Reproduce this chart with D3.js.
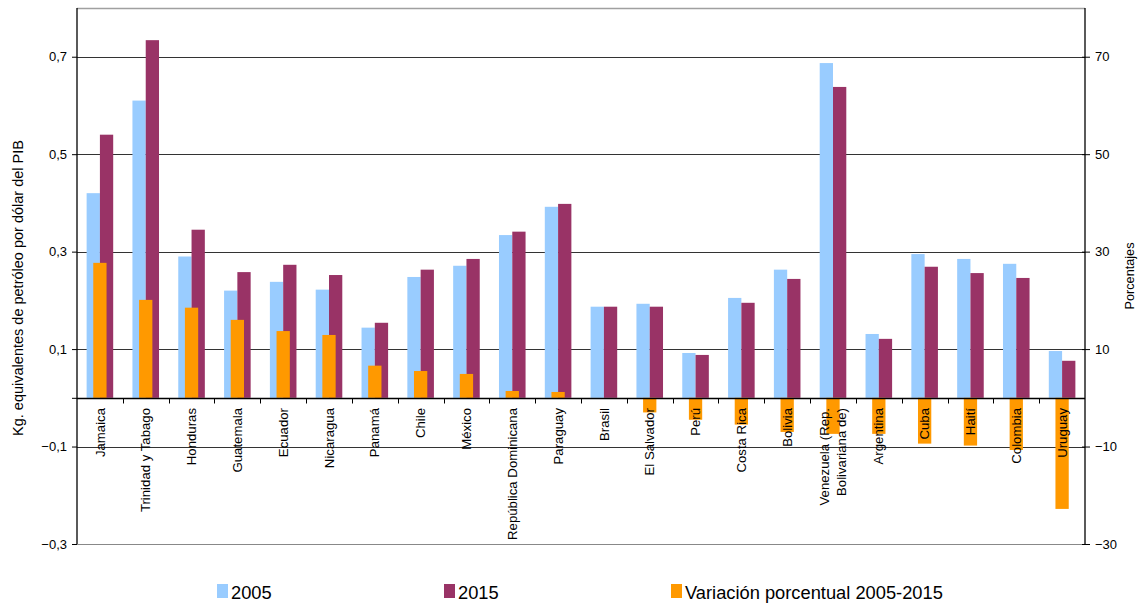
<!DOCTYPE html>
<html><head><meta charset="utf-8">
<script src="https://cdn.jsdelivr.net/npm/d3@7"></script>
<style>body{margin:0;background:#fff}svg{display:block}text{font-family:"Liberation Sans",Arial,sans-serif;fill:#000}</style>
</head><body><svg id="c" width="1139" height="603"></svg>
<script>
const categories = ["Jamaica","Trinidad y Tabago","Honduras","Guatemala","Ecuador","Nicaragua","Panamá","Chile","México","República Dominicana","Paraguay","Brasil","El Salvador","Perú","Costa  Rica","Bolivia","Venezuela (Rep.|Bolivariana de)","Argentina","Cuba","Haití","Colombia","Uruguay"];
const v2005 = [0.42,0.61,0.29,0.22,0.238,0.222,0.144,0.248,0.271,0.334,0.392,0.187,0.193,0.092,0.205,0.263,0.687,0.131,0.295,0.285,0.275,0.096];
const v2015 = [0.54,0.734,0.345,0.258,0.273,0.252,0.154,0.263,0.285,0.341,0.398,0.187,0.187,0.088,0.195,0.244,0.638,0.121,0.269,0.256,0.246,0.076];
const variacion = [27.7,20.1,18.5,16.0,13.7,12.9,6.6,5.5,4.9,1.4,1.2,0,-3.0,-4.5,-5.5,-7.0,-7.4,-7.4,-9.4,-9.8,-10.7,-22.8];
const leftTicks = [-0.3,-0.1,0.1,0.3,0.5,0.7];
const rightTicks = [-30,-10,10,30,50,70];
const seriesNames = ["2005","2015","Variación porcentual 2005-2015"];
const colors = ["#99CCFF","#993366","#FF9900"];

const L=77,R=1085,T=8,B=544;
const svg=d3.select("#c");
const x=d3.scaleBand().domain(categories).range([L,R]).padding(0);
const bw=x.bandwidth();
const barW=bw*0.29;
const yL=d3.scaleLinear().domain([-0.3,0.8]).range([B,T]);
const yR=d3.scaleLinear().domain([-30,80]).range([B,T]);
const fmt=d=>d3.format(".1f")(d).replace(".",",");

// top border
svg.append("line").attr("x1",L).attr("x2",R).attr("y1",T+0.5).attr("y2",T+0.5).attr("stroke","#a0a0a0").attr("stroke-width",1.5);
// gridlines
svg.append("g").selectAll("line").data(leftTicks).join("line")
 .attr("x1",L).attr("x2",R).attr("y1",d=>Math.round(yL(d))+0.5).attr("y2",d=>Math.round(yL(d))+0.5)
 .attr("stroke",d=>d===-0.3?"#888":"#333").attr("stroke-width",1);

// bars
const g=svg.append("g");
categories.forEach((c,i)=>{
  const cx=x(c)+bw/2;
  g.append("rect").attr("x",cx-barW).attr("width",barW).attr("y",yL(v2005[i])).attr("height",yL(0)-yL(v2005[i])).attr("fill",colors[0]);
  g.append("rect").attr("x",cx).attr("width",barW).attr("y",yL(v2015[i])).attr("height",yL(0)-yL(v2015[i])).attr("fill",colors[1]);
});
categories.forEach((c,i)=>{
  const cx=x(c)+bw/2;
  const v=variacion[i];
  g.append("rect").attr("x",cx-barW/2).attr("width",barW).attr("y",Math.min(yR(v),yR(0))).attr("height",Math.abs(yR(v)-yR(0))).attr("fill",colors[2]);
});

// zero axis
const y0=Math.round(yL(0))+0.5;
svg.append("line").attr("x1",L).attr("x2",R).attr("y1",y0).attr("y2",y0).attr("stroke","#000").attr("stroke-width",1.3);
svg.append("g").selectAll("line").data(categories.slice(1)).join("line")
 .attr("x1",d=>Math.round(x(d))+0.5).attr("x2",d=>Math.round(x(d))+0.5).attr("y1",y0).attr("y2",y0+5).attr("stroke","#000");

// left axis
const gl=svg.append("g").attr("transform",`translate(${L},0)`).call(d3.axisLeft(yL).tickValues(leftTicks.concat([0])).tickFormat(d=>d===0?"":fmt(d)).tickSize(5).tickPadding(5));
gl.select(".domain").attr("d",`M0,${T}V${B}`).attr("stroke","#000").attr("stroke-width",1.3);
gl.selectAll("text").attr("font-size",13).attr("font-family","Liberation Sans, Arial, sans-serif");
// right axis
const gr=svg.append("g").attr("transform",`translate(${R},0)`).call(d3.axisRight(yR).tickValues(rightTicks).tickSize(5).tickPadding(5));
gr.select(".domain").attr("d",`M0,${T}V${B}`).attr("stroke","#000").attr("stroke-width",1.3);
gr.selectAll(".tick line").attr("x1",-3);
gr.selectAll("text").attr("font-size",13).attr("font-family","Liberation Sans, Arial, sans-serif");

// category labels
categories.forEach(c=>{
  const lines=c.split("|");
  const cx=x(c)+bw/2;
  lines.forEach((ln,j)=>{
    const off=(j-(lines.length-1)/2)*17;
    svg.append("text").attr("transform",`translate(${cx+off},408) rotate(-90)`)
      .attr("text-anchor","end").attr("dy","0.35em").attr("font-size",13.2).text(ln);
  });
});

// axis titles
svg.append("text").attr("transform",`translate(18,288) rotate(-90)`).attr("text-anchor","middle").attr("dy","0.35em").attr("font-size",14.5).text("Kg. equivalentes de petróleo por dólar del PIB");
svg.append("text").attr("transform",`translate(1130,276) rotate(-90)`).attr("text-anchor","middle").attr("dy","0.35em").attr("font-size",12.7).text("Porcentajes");

// legend
const legX=[217,444,671];
seriesNames.forEach((n,i)=>{
  svg.append("rect").attr("x",legX[i]).attr("y",584).attr("width",11).attr("height",14).attr("fill",colors[i]);
  svg.append("text").attr("x",legX[i]+14).attr("y",599).attr("font-size",18.3).text(n);
});
</script></body></html>
